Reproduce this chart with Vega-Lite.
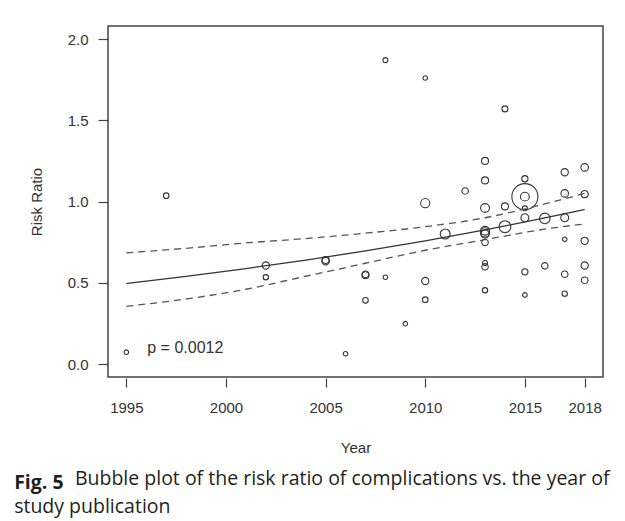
{
  "$schema": "https://vega.github.io/schema/vega-lite/v6.json",
  "width": 495,
  "height": 351,
  "autosize": {"type": "none"},
  "padding": {"left": 108, "top": 26, "right": 22, "bottom": 144},
  "background": "white",
  "config": {"view": {"stroke": "#444", "strokeWidth": 1.5}, "font": "Liberation Sans"},
  "title": {
    "text": "Fig. 5",
    "subtitle": ["\u200b\u00a0\u00a0\u00a0\u00a0\u00a0\u00a0\u00a0\u00a0\u00a0\u00a0\u00a0\u00a0Bubble plot of the risk ratio of complications vs. the year of", "study publication"],
    "orient": "bottom",
    "anchor": "start",
    "frame": "bounds",
    "dx": -15,
    "offset": 19,
    "font": "Open Sans",
    "fontSize": 19.5,
    "fontWeight": "bold",
    "color": "#231f20",
    "subtitleFont": "Open Sans",
    "subtitleFontSize": 19.5,
    "subtitleColor": "#231f20",
    "subtitlePadding": -23.5,
    "subtitleLineHeight": 28
  },
  "datasets": {
    "studies": [
      {"year": 1995, "rr": 0.073, "w": 3},
      {"year": 1997, "rr": 1.036, "w": 4.5},
      {"year": 2002, "rr": 0.606, "w": 7.5},
      {"year": 2002, "rr": 0.534, "w": 4},
      {"year": 2005, "rr": 0.633, "w": 8},
      {"year": 2005, "rr": 0.64, "w": 7},
      {"year": 2006, "rr": 0.063, "w": 3},
      {"year": 2007, "rr": 0.546, "w": 7},
      {"year": 2007, "rr": 0.552, "w": 6.5},
      {"year": 2007, "rr": 0.392, "w": 4.5},
      {"year": 2008, "rr": 1.87, "w": 3.5},
      {"year": 2008, "rr": 0.534, "w": 3},
      {"year": 2009, "rr": 0.248, "w": 3},
      {"year": 2010, "rr": 1.76, "w": 3},
      {"year": 2010, "rr": 0.99, "w": 12},
      {"year": 2010, "rr": 0.511, "w": 7.5},
      {"year": 2010, "rr": 0.396, "w": 4.5},
      {"year": 2011, "rr": 0.8, "w": 14},
      {"year": 2012, "rr": 1.065, "w": 6},
      {"year": 2013, "rr": 1.25, "w": 7},
      {"year": 2013, "rr": 1.13, "w": 7},
      {"year": 2013, "rr": 0.96, "w": 11},
      {"year": 2013, "rr": 0.81, "w": 12},
      {"year": 2013, "rr": 0.82, "w": 11},
      {"year": 2013, "rr": 0.8, "w": 10},
      {"year": 2013, "rr": 0.748, "w": 6},
      {"year": 2013, "rr": 0.622, "w": 3.5},
      {"year": 2013, "rr": 0.598, "w": 6},
      {"year": 2013, "rr": 0.454, "w": 4},
      {"year": 2014, "rr": 1.57, "w": 5},
      {"year": 2014, "rr": 0.97, "w": 7},
      {"year": 2014, "rr": 0.845, "w": 20},
      {"year": 2015, "rr": 1.14, "w": 5.5},
      {"year": 2015, "rr": 1.03, "w": 11},
      {"year": 2015, "rr": 1.03, "w": 97},
      {"year": 2015, "rr": 0.958, "w": 3.5},
      {"year": 2015, "rr": 0.9, "w": 9},
      {"year": 2015, "rr": 0.567, "w": 5.5},
      {"year": 2015, "rr": 0.425, "w": 3},
      {"year": 2016, "rr": 0.896, "w": 16},
      {"year": 2016, "rr": 0.604, "w": 6},
      {"year": 2017, "rr": 1.18, "w": 7.5},
      {"year": 2017, "rr": 1.05, "w": 8},
      {"year": 2017, "rr": 0.9, "w": 9},
      {"year": 2017, "rr": 0.767, "w": 3},
      {"year": 2017, "rr": 0.552, "w": 6},
      {"year": 2017, "rr": 0.433, "w": 4},
      {"year": 2018, "rr": 1.21, "w": 8},
      {"year": 2018, "rr": 1.045, "w": 7.5},
      {"year": 2018, "rr": 0.758, "w": 7.5},
      {"year": 2018, "rr": 0.606, "w": 7.5},
      {"year": 2018, "rr": 0.515, "w": 6.5}
    ],
    "curves": [
      {"curve": "fit", "year": 1995, "rr": 0.495},
      {"curve": "fit", "year": 1998, "rr": 0.539},
      {"curve": "fit", "year": 2001, "rr": 0.587},
      {"curve": "fit", "year": 2004, "rr": 0.639},
      {"curve": "fit", "year": 2007, "rr": 0.696},
      {"curve": "fit", "year": 2010, "rr": 0.758},
      {"curve": "fit", "year": 2013, "rr": 0.825},
      {"curve": "fit", "year": 2016, "rr": 0.899},
      {"curve": "fit", "year": 2018, "rr": 0.951},
      {"curve": "upper", "year": 1995, "rr": 0.684},
      {"curve": "upper", "year": 1998, "rr": 0.712},
      {"curve": "upper", "year": 2001, "rr": 0.745},
      {"curve": "upper", "year": 2004, "rr": 0.772},
      {"curve": "upper", "year": 2007, "rr": 0.805},
      {"curve": "upper", "year": 2010, "rr": 0.845},
      {"curve": "upper", "year": 2013, "rr": 0.9},
      {"curve": "upper", "year": 2016, "rr": 0.985},
      {"curve": "upper", "year": 2018, "rr": 1.05},
      {"curve": "lower", "year": 1995, "rr": 0.355},
      {"curve": "lower", "year": 1998, "rr": 0.4},
      {"curve": "lower", "year": 2001, "rr": 0.46},
      {"curve": "lower", "year": 2004, "rr": 0.54},
      {"curve": "lower", "year": 2007, "rr": 0.62},
      {"curve": "lower", "year": 2010, "rr": 0.7},
      {"curve": "lower", "year": 2013, "rr": 0.765},
      {"curve": "lower", "year": 2016, "rr": 0.83},
      {"curve": "lower", "year": 2018, "rr": 0.862}
    ],
    "notes": [
      {"year": 1996.05, "rr": 0.1, "label": "p = 0.0012"}
    ]
  },
  "layer": [
    {
      "data": {"name": "studies"},
      "mark": {"type": "point", "shape": "circle", "filled": false, "color": "#333", "strokeWidth": 1.1, "opacity": 1},
      "encoding": {
        "x": {
          "field": "year", "type": "quantitative",
          "scale": {"domain": [1994.08, 2018.92], "nice": false, "zero": false},
          "axis": {
            "values": [1995, 2000, 2005, 2010, 2015, 2018], "format": "d", "title": "Year",
            "domain": false, "grid": false, "offset": 1, "tickSize": 9, "tickColor": "#444", "tickWidth": 1.2,
            "labelPadding": 13, "labelFontSize": 15, "labelColor": "#333", "labelFont": "Liberation Sans",
            "labelOverlap": false, "labelFlush": false,
            "titleFontSize": 15, "titleFontWeight": "normal", "titleColor": "#333", "titleFont": "Liberation Sans", "titlePadding": 25
          }
        },
        "y": {
          "field": "rr", "type": "quantitative",
          "scale": {"domain": [-0.08, 2.08], "nice": false, "zero": false},
          "axis": {
            "values": [0, 0.5, 1, 1.5, 2], "format": ".1f", "title": "Risk Ratio",
            "domain": false, "grid": false, "tickSize": 10, "tickColor": "#444", "tickWidth": 1.2,
            "labelPadding": 10, "labelFontSize": 15, "labelColor": "#333", "labelFont": "Liberation Sans",
            "labelOverlap": false, "labelFlush": false,
            "titleFontSize": 15, "titleFontWeight": "normal", "titleColor": "#333", "titleFont": "Liberation Sans", "titlePadding": 23
          }
        },
        "size": {"field": "w", "type": "quantitative", "scale": {"type": "linear", "domain": [0, 100], "range": [0, 700]}, "legend": null}
      }
    },
    {
      "data": {"name": "curves"},
      "transform": [{"filter": "datum.curve === 'fit'"}],
      "mark": {"type": "line", "color": "#333", "strokeWidth": 1.3, "interpolate": "monotone"},
      "encoding": {
        "x": {"field": "year", "type": "quantitative"},
        "y": {"field": "rr", "type": "quantitative"}
      }
    },
    {
      "data": {"name": "curves"},
      "transform": [{"filter": "datum.curve !== 'fit'"}],
      "mark": {"type": "line", "color": "#555", "strokeWidth": 1.3, "strokeDash": [7, 5], "interpolate": "monotone"},
      "encoding": {
        "x": {"field": "year", "type": "quantitative"},
        "y": {"field": "rr", "type": "quantitative"},
        "detail": {"field": "curve"}
      }
    },
    {
      "data": {"name": "notes"},
      "mark": {"type": "text", "align": "left", "baseline": "middle", "fontSize": 16, "color": "#333", "font": "Liberation Sans"},
      "encoding": {
        "x": {"field": "year", "type": "quantitative"},
        "y": {"field": "rr", "type": "quantitative"},
        "text": {"field": "label"}
      }
    }
  ]
}
